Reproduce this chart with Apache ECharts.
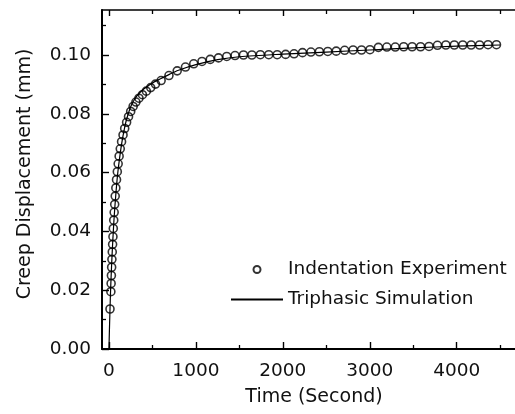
<!DOCTYPE html>
<html>
<head>
<meta charset="utf-8">
<script src="https://cdn.jsdelivr.net/npm/echarts@6/dist/echarts.min.js"></script>
<style>
  html, body { margin: 0; padding: 0; background: #fff; }
  #chart { width: 515px; height: 414px; }
</style>
</head>
<body>
<div id="chart"></div>
<script>
// Indentation creep experiment (seconds, mm)
const expTime = [12, 22, 25, 28, 31, 34, 38, 42, 46, 50, 55, 60, 66, 72, 79, 87, 96, 106, 117, 130,
  145, 162, 181, 203, 225, 250, 278, 310, 345, 385, 430, 480, 535, 600, 690, 785, 880, 975, 1070,
  1165, 1260, 1355, 1450, 1547, 1644, 1741, 1838, 1935, 2032, 2129, 2226, 2323, 2420, 2517, 2614,
  2711, 2808, 2905, 3002, 3099, 3196, 3293, 3390, 3487, 3584, 3681, 3778, 3875, 3972, 4069, 4166,
  4263, 4360, 4457];
const expDisp = [0.0136, 0.0195, 0.0223, 0.0250, 0.0278, 0.0305, 0.0330, 0.0356, 0.0382, 0.0410,
  0.0438, 0.0465, 0.0492, 0.0520, 0.0548, 0.0576, 0.0603, 0.0630, 0.0656, 0.0681, 0.0705, 0.0728,
  0.0750, 0.0771, 0.0790, 0.0808, 0.0825, 0.0840, 0.0853, 0.0865, 0.0877, 0.0889, 0.0901, 0.0913,
  0.0930, 0.0946, 0.0959, 0.0970, 0.0978, 0.0985, 0.0990, 0.0995, 0.0998, 0.1000, 0.1000, 0.1001,
  0.1001, 0.1001, 0.1002, 0.1004, 0.1008, 0.1010, 0.1011, 0.1012, 0.1013, 0.1016, 0.1017, 0.1017,
  0.1018, 0.1026, 0.1027, 0.1027, 0.1028, 0.1028, 0.1028, 0.1029, 0.1033, 0.1034, 0.1034, 0.1034,
  0.1034, 0.1034, 0.1035, 0.1035];

// Triphasic model prediction
const simTime = [0, 5, 10, 15, 20, 30, 40, 50, 60, 80, 100, 125, 150, 175, 200, 250, 300, 350, 400,
  500, 600, 700, 800, 1000, 1250, 1500, 2000, 2500, 3000, 3500, 4000, 4500];
const simDisp = [0, 0.0060, 0.0115, 0.0165, 0.0210, 0.0282, 0.0345, 0.0400, 0.0450, 0.0530, 0.0595,
  0.0655, 0.0705, 0.0745, 0.0778, 0.0824, 0.0852, 0.0870, 0.0884, 0.0905, 0.0920, 0.0935, 0.0948,
  0.0967, 0.0984, 0.0994, 0.1003, 0.1010, 0.1017, 0.1024, 0.1030, 0.1034];

const xTicks = [0, 1000, 2000, 3000, 4000];
const xMinorTicks = [500, 1500, 2500, 3500, 4500];
const yTicks = [0, 0.02, 0.04, 0.06, 0.08, 0.10];
const yMinorTicks = [0.01, 0.03, 0.05, 0.07, 0.09, 0.11];

const X_MIN = -80, X_MAX = 4670, Y_MIN = 0, Y_MAX = 0.1153;
const FONT = 'DejaVu Sans';
const INK = '#111';

const gridRect = { left: 102, top: 10, right: 0, bottom: 65 };

// Tick-only axis used for the short intermediate ticks
function minorAxis(pos, ticks, len, gridIndex) {
  return {
    type: 'value', gridIndex: gridIndex, position: pos,
    min: pos === 'left' ? Y_MIN : X_MIN, max: pos === 'left' ? Y_MAX : X_MAX,
    axisLine: { show: false, onZero: false },
    axisTick: { show: true, inside: true, length: len, customValues: ticks,
      lineStyle: { color: '#000', width: 1.3 } },
    axisLabel: { show: false },
    splitLine: { show: false }
  };
}

const chart = echarts.init(document.getElementById('chart'), null, { renderer: 'canvas' });
chart.setOption({
  animation: false,
  backgroundColor: '#fff',
  grid: [Object.assign({}, gridRect), Object.assign({}, gridRect)],
  legend: {
    data: [
      { name: 'Indentation Experiment' },
      { name: 'Triphasic Simulation', itemStyle: { opacity: 0 } }
    ],
    orient: 'vertical', left: 230, top: 260, padding: 0,
    itemWidth: 52, itemHeight: 7, itemGap: 11,
    textStyle: { fontFamily: FONT, fontSize: 18.5, color: INK }
  },
  xAxis: [
    {
      type: 'value', gridIndex: 0, position: 'bottom', min: X_MIN, max: X_MAX,
      name: 'Time (Second)', nameLocation: 'middle', nameGap: 39,
      nameTextStyle: { fontFamily: FONT, fontSize: 19, color: INK, padding: [0, 0, 0, 11] },
      axisLine: { show: true, onZero: false, lineStyle: { color: '#000', width: 2 } },
      axisTick: { show: true, inside: true, length: 7, customValues: xTicks,
        lineStyle: { color: '#000', width: 1.4 } },
      axisLabel: { customValues: xTicks, margin: 13, fontFamily: FONT, fontSize: 18.5, color: INK,
        formatter: v => String(Math.round(v)) },
      splitLine: { show: false }
    },
    {
      type: 'value', gridIndex: 0, position: 'top', min: X_MIN, max: X_MAX,
      axisLine: { show: true, onZero: false, lineStyle: { color: '#000', width: 1.6 } },
      axisTick: { show: true, inside: true, length: 6, customValues: xTicks,
        lineStyle: { color: '#000', width: 1.4 } },
      axisLabel: { show: false },
      splitLine: { show: false }
    },
    minorAxis('bottom', xMinorTicks, 4, 1),
    minorAxis('top', xMinorTicks, 4, 1)
  ],
  yAxis: [
    {
      type: 'value', gridIndex: 0, position: 'left', min: Y_MIN, max: Y_MAX,
      name: 'Creep Displacement (mm)', nameLocation: 'middle', nameGap: 67, nameRotate: 90,
      nameTextStyle: { fontFamily: FONT, fontSize: 19, color: INK, padding: [0, 0, 0, 11] },
      axisLine: { show: true, onZero: false, lineStyle: { color: '#000', width: 2 } },
      axisTick: { show: true, inside: true, length: 7, customValues: yTicks,
        lineStyle: { color: '#000', width: 1.4 } },
      axisLabel: { customValues: yTicks, margin: 11, fontFamily: FONT, fontSize: 18.5, color: INK,
        formatter: v => v.toFixed(2) },
      splitLine: { show: false }
    },
    minorAxis('left', yMinorTicks, 4, 1)
  ],
  series: [
    {
      name: 'Triphasic Simulation', type: 'line', xAxisIndex: 0, yAxisIndex: 0,
      data: simTime.map((t, i) => [t, simDisp[i]]),
      symbol: 'none', smooth: 0.3,
      lineStyle: { color: '#000', width: 1.2 },
      itemStyle: { color: '#000' },
      z: 2
    },
    {
      name: 'Indentation Experiment', type: 'scatter', xAxisIndex: 0, yAxisIndex: 0,
      data: expTime.map((t, i) => [t, expDisp[i]]),
      symbol: 'circle', symbolSize: 8,
      itemStyle: { color: 'rgba(255,255,255,0)', borderColor: '#000', borderWidth: 1.6 },
      z: 3
    }
  ]
});
</script>
</body>
</html>
